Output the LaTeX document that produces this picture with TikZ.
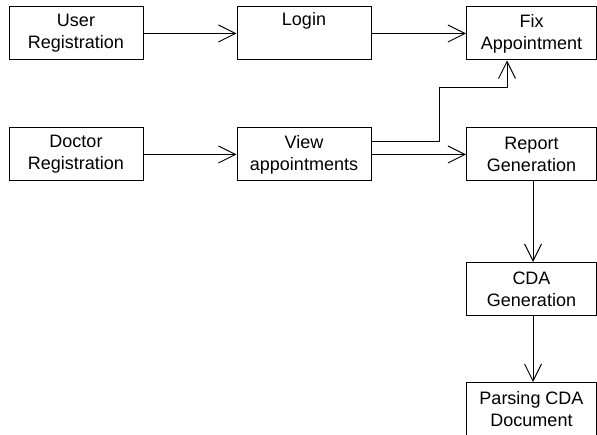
\documentclass[tikz,border=0pt]{standalone}
\usepackage{fontspec}
\setmainfont{Liberation Sans}
\usepackage{tikz}
\usetikzlibrary{arrows.meta}

\begin{document}
\begin{tikzpicture}[x=1pt, y=-1pt,
    main/.style = {draw, rectangle, line width=1pt, align=center, inner sep=0pt,
        minimum height=53pt, font=\fontsize{18}{22}\selectfont},
    arr/.style = {line width=1pt, -{Straight Barb[length=17pt, width=17pt, line width=1pt]}}]
                \useasboundingbox (0,0) rectangle (597,435);
                \node[main, minimum width=134pt] (ureg) at (76,33.5) {User\\Registration};
                \node[main, minimum width=134pt] (login) at (304,33.5) {Login\\\strut};
                \node[main, minimum width=130pt] (fix) at (531.5,33.5) {Fix\\Appointment};
                \node[main, minimum width=134pt] (dreg) at (76,154.5) {Doctor\\Registration};
                \node[main, minimum width=134pt] (view) at (304,154.5) {View\\appointments};
                \node[main, minimum width=130pt] (report) at (531.5,154.5) {Report\\Generation};
                \node[main, minimum width=130pt] (cda) at (531.5,289) {CDA\\Generation};
                \node[main, minimum width=130pt] (parse) at (531.5,409) {Parsing CDA\\Document};
                \draw[arr] (ureg) -- (login);
                \draw[arr] (login) -- (fix);
                \draw[arr] (dreg) -- (view);
                \draw[arr] (view) -- (report);
                \draw[arr] ([yshift=12.5pt]view.east) -| (439,88) -| ([xshift=-24.5pt]fix.south);
                \draw[arr] ([xshift=1.5pt]report.south) -- ([xshift=1.5pt]cda.north);
                \draw[arr] ([xshift=1.5pt]cda.south) -- ([xshift=1.5pt]parse.north);
            \end{tikzpicture}
\end{document}
